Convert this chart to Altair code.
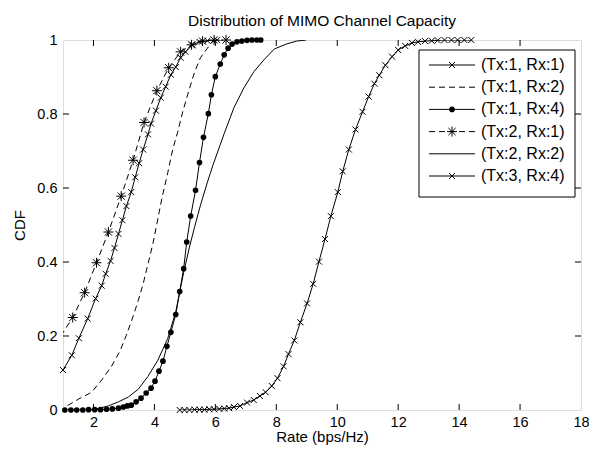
import altair as alt
import pandas as pd

# ---------------- data ----------------
names = ["(Tx:1, Rx:1)", "(Tx:1, Rx:2)", "(Tx:1, Rx:4)", "(Tx:2, Rx:1)", "(Tx:2, Rx:2)", "(Tx:3, Rx:4)"]

s11_x = [1.00, 1.29, 1.52, 1.81, 2.07, 2.27, 2.40, 2.56, 2.69, 2.82, 2.95, 3.08, 3.24, 3.37, 3.50,
         3.63, 3.79, 3.89, 4.05, 4.21, 4.37, 4.54, 4.70, 4.86, 5.02, 5.25, 5.48, 5.74, 6.06]
s11_y = [0.108, 0.148, 0.194, 0.247, 0.301, 0.336, 0.368, 0.403, 0.438, 0.476, 0.513, 0.551, 0.589, 0.629, 0.667,
         0.704, 0.745, 0.774, 0.809, 0.844, 0.874, 0.906, 0.927, 0.952, 0.968, 0.987, 0.995, 0.998, 1.0]

s12_x = [1.15, 1.52, 1.94, 2.27, 2.59, 2.88, 3.08, 3.30, 3.47, 3.63, 3.79, 3.95, 4.08, 4.24, 4.44,
         4.60, 4.76, 4.93, 5.09, 5.32, 5.51, 5.74, 5.90, 6.13]
s12_y = [0.012, 0.030, 0.048, 0.081, 0.118, 0.161, 0.202, 0.253, 0.296, 0.341, 0.395, 0.449, 0.503, 0.570, 0.642,
         0.704, 0.750, 0.806, 0.852, 0.914, 0.952, 0.978, 0.995, 1.0]

s14_x = [1.06, 1.26, 1.45, 1.65, 1.84, 2.04, 2.23, 2.43, 2.62, 2.82, 2.98, 3.11, 3.24, 3.40, 3.56,
         3.73, 3.89, 4.02, 4.15, 4.28, 4.41, 4.54, 4.70, 4.83, 4.96, 5.06, 5.19, 5.35, 5.48, 5.61,
         5.77, 5.87, 6.00, 6.16, 6.29, 6.42, 6.55, 6.71, 6.87, 7.04, 7.20, 7.36, 7.49]
s14_y = [0.0, 0.0, 0.0, 0.0, 0.001, 0.001, 0.001, 0.002, 0.003, 0.005, 0.008, 0.011, 0.013, 0.022, 0.032,
         0.046, 0.059, 0.078, 0.105, 0.132, 0.172, 0.210, 0.258, 0.320, 0.382, 0.454, 0.524, 0.594, 0.669, 0.737,
         0.801, 0.852, 0.901, 0.935, 0.960, 0.978, 0.989, 0.995, 0.997, 0.999, 1.0, 1.0, 1.0]

s21_x = [0.93, 1.32, 1.71, 2.10, 2.49, 2.91, 3.30, 3.66, 4.08, 4.47, 4.86, 5.22, 5.58, 5.96, 6.35]
s21_y = [0.200, 0.250, 0.317, 0.398, 0.481, 0.578, 0.675, 0.777, 0.863, 0.925, 0.968, 0.987, 0.997, 1.0, 1.0]

s22_x = [2.01, 2.49, 2.82, 3.14, 3.47, 3.79, 4.11, 4.44, 4.70, 4.96, 5.15, 5.32, 5.51, 5.74, 5.93,
         6.29, 6.61, 6.94, 7.26, 7.59, 7.94, 8.33, 8.66, 8.98]
s22_y = [0.001, 0.011, 0.022, 0.035, 0.056, 0.091, 0.134, 0.194, 0.265, 0.372, 0.440, 0.495, 0.553, 0.616, 0.664,
         0.747, 0.817, 0.871, 0.914, 0.946, 0.976, 0.989, 0.997, 1.0]

s34_x = [4.83, 4.99, 5.15, 5.32, 5.48, 5.64, 5.80, 5.96, 6.13, 6.29, 6.45, 6.61, 6.81, 7.04, 7.26,
         7.46, 7.65, 7.85, 8.04, 8.24, 8.40, 8.59, 8.79, 9.01, 9.21, 9.40, 9.60, 9.79, 10.02, 10.18,
         10.38, 10.60, 10.83, 11.03, 11.22, 11.38, 11.58, 11.80, 12.00, 12.23, 12.45, 12.65, 12.88, 13.10, 13.30,
         13.52, 13.75, 13.95, 14.17, 14.40]
s34_y = [0.0, 0.0, 0.0, 0.001, 0.001, 0.001, 0.002, 0.002, 0.003, 0.004, 0.005, 0.008, 0.011, 0.020, 0.027,
         0.038, 0.048, 0.065, 0.086, 0.118, 0.151, 0.188, 0.237, 0.288, 0.341, 0.401, 0.462, 0.524, 0.589, 0.645,
         0.704, 0.758, 0.806, 0.847, 0.882, 0.905, 0.932, 0.955, 0.973, 0.984, 0.992, 0.995, 0.997, 0.998, 0.999,
         1.0, 1.0, 1.0, 1.0, 1.0]

x_ticks = [2, 4, 6, 8, 10, 12, 14, 16, 18]
y_ticks = [0, 0.2, 0.4, 0.6, 0.8, 1]

# ---------------- layout / style ----------------
W, H = 518, 370
PAD = {"left": 55, "top": 32, "right": 8, "bottom": 36}
FONT = "Liberation Sans"
X_SHAPE = "M-1,-1L1,1M-1,1L1,-1"
STAR = "M-1,0L1,0M0,-1L0,1M-0.72,-0.72L0.72,0.72M-0.72,0.72L0.72,-0.72"
DASH = [6, 4]

xsc = alt.Scale(domain=[1, 18], nice=False, zero=False)
ysc = alt.Scale(domain=[0, 1], nice=False, zero=False)

xaxis = alt.Axis(values=x_ticks, format="d", ticks=False, domain=False, grid=False,
                 labelFont=FONT, labelFontSize=14.5, labelColor="black", labelPadding=5,
                 labelFlush=False, labelOverlap=False,
                 title="Rate (bps/Hz)", titleFont=FONT, titleFontSize=15, titleFontWeight="normal",
                 titleColor="black", titlePadding=1)
yaxis = alt.Axis(values=y_ticks, format=".1~f", ticks=False, domain=False, grid=False,
                 labelFont=FONT, labelFontSize=14.5, labelColor="black", labelPadding=6,
                 labelFlush=False, labelOverlap=False,
                 title="CDF", titleFont=FONT, titleFontSize=15, titleFontWeight="normal",
                 titleColor="black", titlePadding=9)


def X(f):
    return alt.X(f"{f}:Q", scale=xsc, axis=xaxis)


def Y(f):
    return alt.Y(f"{f}:Q", scale=ysc, axis=yaxis)


def dx(px):
    return 1 + px * 17.0 / W


def dy(py):
    return 1 - py / H


specs = [
    (names[0], s11_x, s11_y, None, "x"),
    (names[1], s12_x, s12_y, DASH, None),
    (names[2], s14_x, s14_y, None, "dot"),
    (names[3], s21_x, s21_y, DASH, "star"),
    (names[4], s22_x, s22_y, None, None),
    (names[5], s34_x, s34_y, None, "x"),
]


def marker_kw(kind):
    if kind == "x":
        return dict(shape=X_SHAPE, filled=False, stroke="black", strokeWidth=1, size=36, opacity=1)
    if kind == "star":
        return dict(shape=STAR, filled=False, stroke="black", strokeWidth=1, size=100, opacity=1)
    return dict(shape="circle", filled=True, fill="black", stroke="black", strokeWidth=0, size=32, opacity=1)


layers = []
for name, xs, ys, dash, mk in specs:
    d = pd.DataFrame({"x": xs, "y": ys, "series": name})
    line_kw = dict(color="black", strokeWidth=1, clip=True)
    if dash:
        line_kw["strokeDash"] = dash
    layers.append(alt.Chart(d).mark_line(**line_kw).encode(x=X("x"), y=Y("y"), order="x:Q"))
    if mk:
        layers.append(alt.Chart(d).mark_point(**marker_kw(mk))
                      .encode(x=X("x"), y=Y("y")).transform_filter(alt.datum.x >= 1))

# inner tick marks on all four sides (MATLAB box style)
tx = pd.DataFrame({"v": [v for v in x_ticks if v < 18]})
ty = pd.DataFrame({"v": [v for v in y_ticks if 0 < v < 1]})
TL = 6
layers += [
    alt.Chart(tx).mark_rule(color="black", strokeWidth=1).encode(x=X("v"), y=alt.value(H), y2=alt.value(H - TL)),
    alt.Chart(tx).mark_rule(color="black", strokeWidth=1).encode(x=X("v"), y=alt.value(0), y2=alt.value(TL)),
    alt.Chart(ty).mark_rule(color="black", strokeWidth=1).encode(y=Y("v"), x=alt.value(0), x2=alt.value(TL)),
    alt.Chart(ty).mark_rule(color="black", strokeWidth=1).encode(y=Y("v"), x=alt.value(W), x2=alt.value(W - TL)),
]

# legend (drawn in plot coordinates, anchored to the upper-right corner)
BL, BR, BT, BB = W - 162, W - 6, 10, 157
box = pd.DataFrame({"x1": [dx(BL)], "x2": [dx(BR)], "y1": [dy(BT)], "y2": [dy(BB)]})
layers.append(alt.Chart(box).mark_rect(fill="white", stroke="black", strokeWidth=1)
              .encode(x=X("x1"), x2="x2", y=Y("y1"), y2="y2"))
for i, (name, xs, ys, dash, mk) in enumerate(specs):
    ry = 25 + 22.2 * i
    ld = pd.DataFrame({"x1": [dx(BL + 10)], "x2": [dx(BL + 56)], "xm": [dx(BL + 33)], "xt": [dx(BL + 62)],
                       "y": [dy(ry)], "label": [name]})
    rk = dict(color="black", strokeWidth=1)
    if dash:
        rk["strokeDash"] = dash
    layers.append(alt.Chart(ld).mark_rule(**rk).encode(x=X("x1"), x2="x2", y=Y("y")))
    if mk:
        layers.append(alt.Chart(ld).mark_point(**marker_kw(mk)).encode(x=X("xm"), y=Y("y")))
    layers.append(alt.Chart(ld).mark_text(align="left", baseline="middle", font=FONT, fontSize=16, color="black")
                  .encode(x=X("xt"), y=Y("y"), text="label:N"))

chart = (
    alt.layer(*layers)
    .properties(
        width=W, height=H,
        padding=PAD,
        autosize=alt.AutoSizeParams(type="none"),
        title=alt.TitleParams("Distribution of MIMO Channel Capacity", font=FONT, fontSize=15.5,
                              fontWeight="normal", color="black", offset=3, frame="group", anchor="middle"),
    )
    .configure_view(stroke="black", strokeWidth=1)
    .configure(background="white")
)

chart.save("out.html", embed_options={"renderer": "svg", "actions": False})
